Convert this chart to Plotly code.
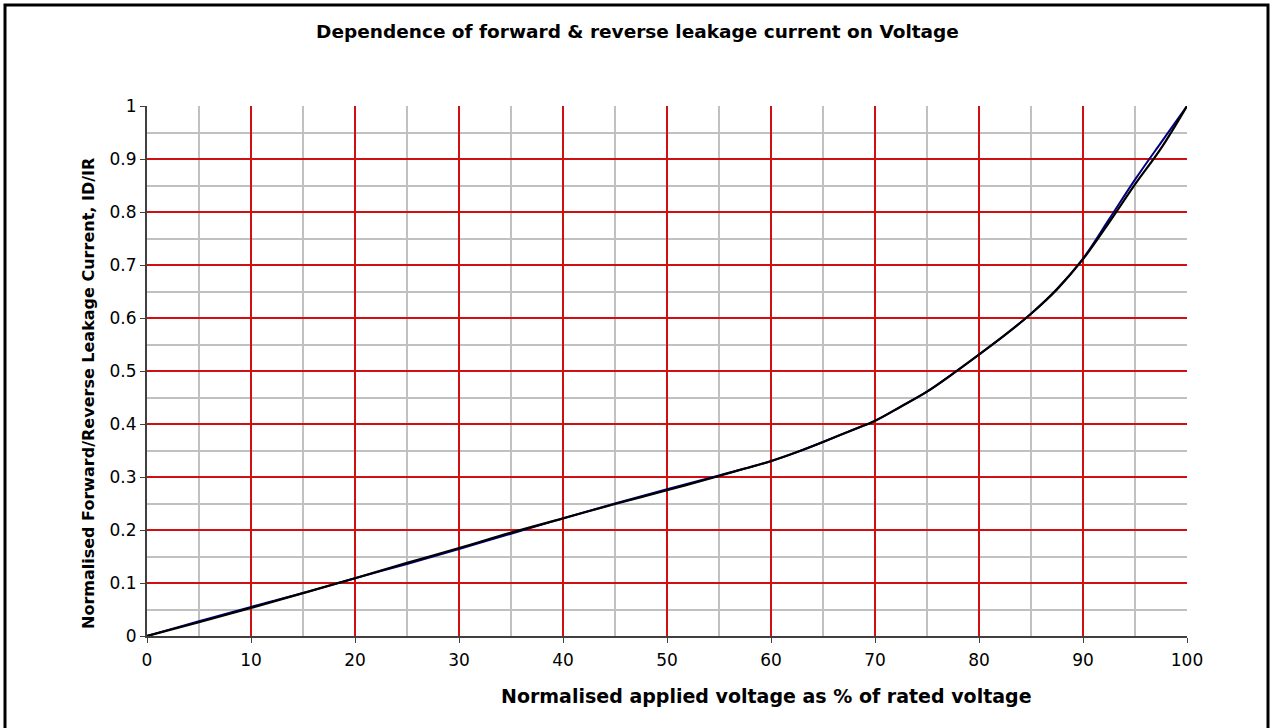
import plotly.graph_objects as go

# Data
voltage_pct = [0, 5, 10, 15, 20, 25, 30, 35, 40, 45, 50, 55, 57.5, 60, 62.5, 65, 67.5, 70,
               72.5, 75, 77.5, 80, 82.5, 85, 87.5, 90, 92.5, 95, 97.5, 100]
forward_current = [0, 0.028, 0.055, 0.081, 0.109, 0.136, 0.164, 0.193, 0.222, 0.250, 0.277, 0.303,
                   0.316, 0.330, 0.347, 0.366, 0.386, 0.406, 0.433, 0.461, 0.495, 0.531, 0.568,
                   0.608, 0.655, 0.712, 0.786, 0.861, 0.931, 1.0]
reverse_current = [0, 0.026, 0.053, 0.081, 0.109, 0.138, 0.166, 0.195, 0.222, 0.249, 0.275, 0.302,
                   0.316, 0.330, 0.347, 0.366, 0.386, 0.406, 0.433, 0.461, 0.495, 0.531, 0.568,
                   0.608, 0.654, 0.711, 0.780, 0.852, 0.920, 1.0]

title_text = "Dependence of forward & reverse leakage current on Voltage"
x_title = "Normalised applied voltage as % of rated voltage"
y_title = "Normalised Forward/Reverse Leakage Current, ID/IR"

W, H = 1275, 728
L, R, T, B = 147, 88, 106, 92
pw, ph = W - L - R, H - T - B

def px(x):
    return (x - L) / pw

def py(y):
    return (H - B - y) / ph

FONT = "DejaVu Sans, Arial, sans-serif"
RED = "#D01010"
GREY = "#C0C0C0"

fig = go.Figure()
fig.add_trace(go.Scatter(x=voltage_pct, y=forward_current, mode="lines",
                         line=dict(color="#000080", width=2, shape="spline", smoothing=1.0),
                         name="Forward", showlegend=False, hoverinfo="x+y"))
fig.add_trace(go.Scatter(x=voltage_pct, y=reverse_current, mode="lines",
                         line=dict(color="#000000", width=2.2, shape="spline", smoothing=1.0),
                         name="Reverse", showlegend=False, hoverinfo="x+y"))

fig.update_layout(
    width=W, height=H,
    margin=dict(l=L, r=R, t=T, b=B),
    paper_bgcolor="white", plot_bgcolor="white",
    font=dict(family=FONT, color="black", size=17),
    title=dict(text="<b>" + title_text + "</b>", x=0.5, xref="container", xanchor="center",
               y=1 - 32 / H, yref="container", yanchor="middle",
               font=dict(family=FONT, size=18.5, color="black")),
    showlegend=False,
)

fig.update_xaxes(range=[0, 100], tickmode="linear", tick0=0, dtick=10,
                 showgrid=True, gridcolor=RED, gridwidth=1.5,
                 minor=dict(tick0=5, dtick=10, showgrid=True, gridcolor=GREY, gridwidth=1.5),
                 showline=True, linecolor="#404040", linewidth=2,
                 ticks="outside", ticklen=5, tickcolor="#404040", ticklabelstandoff=3,
                 zeroline=False, tickfont=dict(size=17, family=FONT), fixedrange=True)
fig.update_yaxes(range=[0, 1], tickmode="linear", tick0=0, dtick=0.1,
                 showgrid=True, gridcolor=RED, gridwidth=1.5,
                 minor=dict(tick0=0.05, dtick=0.1, showgrid=True, gridcolor=GREY, gridwidth=1.5),
                 showline=True, linecolor="#404040", linewidth=2,
                 ticks="outside", ticklen=5, tickcolor="#404040",
                 zeroline=False, tickfont=dict(size=17, family=FONT), fixedrange=True)

fig.add_annotation(text="<b>" + x_title + "</b>", xref="paper", yref="paper",
                   x=px(766), y=py(696), xanchor="center", yanchor="middle",
                   showarrow=False, font=dict(family=FONT, size=19, color="black"))
fig.add_annotation(text="<b>" + y_title + "</b>", xref="paper", yref="paper",
                   x=px(88), y=py(394), xanchor="center", yanchor="middle", textangle=-90,
                   showarrow=False, font=dict(family=FONT, size=16, color="black"))

# Outer chart border (bottom edge lies just outside the visible page, as in the reference)
fig.add_shape(type="rect", xref="paper", yref="paper",
              x0=px(5), x1=px(1268), y0=py(731), y1=py(5),
              line=dict(color="black", width=3), fillcolor="rgba(0,0,0,0)", layer="above")

fig.write_html("out.html", config={"displayModeBar": False},
               post_script="document.body.style.margin='0';document.body.style.overflow='hidden';")
